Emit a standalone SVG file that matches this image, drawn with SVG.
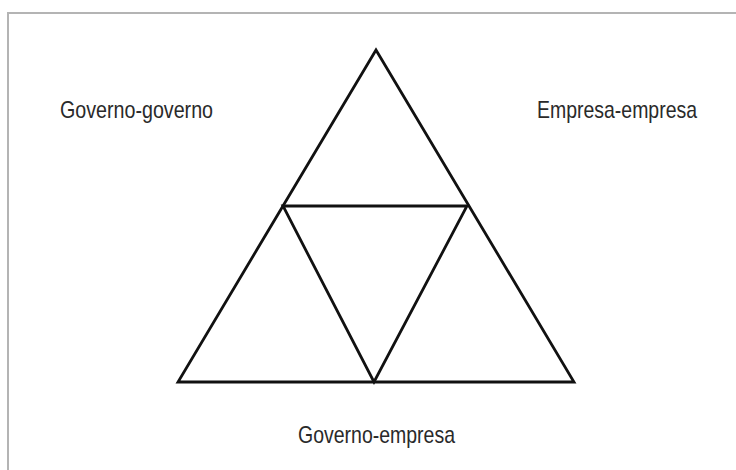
<svg xmlns="http://www.w3.org/2000/svg" width="736" height="470" viewBox="0 0 736 470">
  <style>
    .frame { fill: none; stroke: #b4b4b4; stroke-width: 2; }
    .edge { fill: none; stroke: #111; stroke-width: 2.8; stroke-linejoin: miter; stroke-linecap: round; }
    .label { font-family: "Liberation Sans Narrow", "Liberation Sans", Arial, sans-serif; font-size: 24px; fill: #2a2a2a; }
  </style>
  <rect width="736" height="470" fill="#ffffff"/>
  <!-- outer frame, open to the right and bottom -->
  <path class="frame" d="M8 480 L8 13 L740 13"/>

  <g id="connectors">
    <!-- outer triangle -->
    <polygon class="edge" points="376,50 178,382 574,382"/>
    <!-- inner inverted triangle joining the midpoints -->
    <polygon class="edge" points="283,206 467,206 374,382"/>
  </g>

  <g id="governo-governo">
    <text class="label" x="60" y="118" textLength="153" lengthAdjust="spacingAndGlyphs">Governo-governo</text>
  </g>
  <g id="empresa-empresa">
    <text class="label" x="537" y="118" textLength="160" lengthAdjust="spacingAndGlyphs">Empresa-empresa</text>
  </g>
  <g id="governo-empresa">
    <text class="label" x="298" y="443" textLength="157" lengthAdjust="spacingAndGlyphs">Governo-empresa</text>
  </g>
</svg>
